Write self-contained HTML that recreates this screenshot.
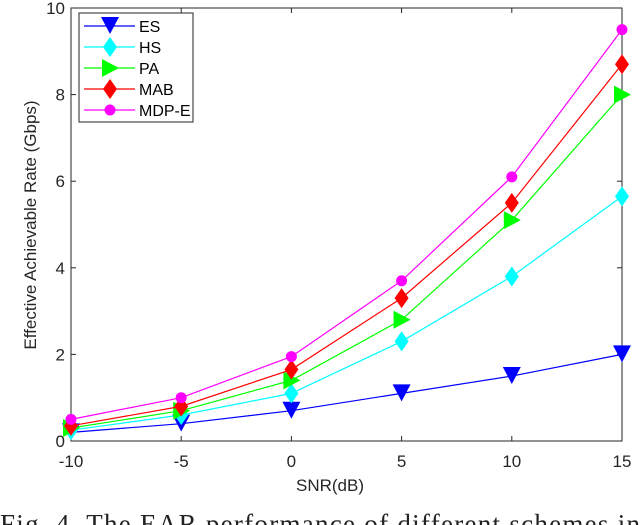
<!DOCTYPE html>
<html><head><meta charset="utf-8"><style>
html,body{margin:0;padding:0;background:#fff;overflow:hidden}
svg{display:block;font-family:"Liberation Sans",sans-serif}
</style></head><body>
<svg id="chart" width="640" height="525" viewBox="0 0 640 525">
<rect x="71" y="8" width="551" height="433" fill="#fff" stroke="#262626" stroke-width="1"/>
<g id="axes"></g>
<g id="series"></g>
<text x="330" y="491" font-size="17" text-anchor="middle" fill="#262626">SNR(dB)</text>
<text transform="translate(36,225) rotate(-90)" font-size="17" text-anchor="middle" fill="#262626">Effective Achievable Rate (Gbps)</text>
<g id="legend"></g>
<text x="0" y="533" font-family="Liberation Serif,serif" font-size="27" fill="#222" textLength="640">Fig. 4.  The EAR performance of different schemes in</text>
</svg>
<script>
const categories=[-10,-5,0,5,10,15];
const xTicks=[-10,-5,0,5,10,15];
const yTicks=[0,2,4,6,8,10];
const seriesNames=["ES","HS","PA","MAB","MDP-E"];
const esVals=[0.2,0.4,0.7,1.1,1.5,2.0];
const hsVals=[0.25,0.6,1.1,2.3,3.8,5.65];
const paVals=[0.3,0.7,1.4,2.8,5.1,8.0];
const mabVals=[0.35,0.8,1.65,3.3,5.5,8.7];
const mdpVals=[0.5,1.0,1.95,3.7,6.1,9.5];
const NS="http://www.w3.org/2000/svg";
const X0=71,X1=622,Y0=441,Y1=8;
const xs=v=>X0+(v+10)/25*(X1-X0);
const ys=v=>Y0-v/10*(Y0-Y1);
function mk(t,a,p){const e=document.createElementNS(NS,t);for(const k in a)e.setAttribute(k,a[k]);p.appendChild(e);return e;}
const axes=document.getElementById('axes');
xTicks.forEach(t=>{const x=xs(t);
 const l=mk('line',{x1:x,x2:x,y1:Y0,y2:Y0-5,stroke:'#262626'},axes);
 
 
 mk('line',{x1:x,x2:x,y1:Y1,y2:Y1+5,stroke:'#262626'},axes);
 const tx=mk('text',{x:x,y:Y0+26,'font-size':17,'text-anchor':'middle',fill:'#262626'},axes);tx.textContent=t;
 
 
});
yTicks.forEach(t=>{const y=ys(t);
 const l=mk('line',{x1:X0,x2:X0+5,y1:y,y2:y,stroke:'#262626'},axes);
 
 
 mk('line',{x1:X1,x2:X1-5,y1:y,y2:y,stroke:'#262626'},axes);
 const tx=mk('text',{x:X0-6,y:y+6,'font-size':17,'text-anchor':'end',fill:'#262626'},axes);tx.textContent=t;
 
 
});
const allVals=[esVals,hsVals,paVals,mabVals,mdpVals];
const colors=['#0000ff','#00ffff','#00ff00','#ff0000','#ff00ff'];
const shapes=['tri-down','diamond','tri-right','diamond','circle'];
function marker(shape,x,y,c,p){
 let e;
 if(shape==='tri-down')e=mk('polygon',{points:`${x-9},${y-9} ${x+9},${y-9} ${x},${y+8}`,fill:c},p);
 else if(shape==='diamond')e=mk('polygon',{points:`${x},${y-10} ${x+7},${y} ${x},${y+10} ${x-7},${y}`,fill:c},p);
 else if(shape==='tri-right')e=mk('polygon',{points:`${x-8},${y-9} ${x+9},${y} ${x-8},${y+9}`,fill:c},p);
 else e=mk('circle',{cx:x,cy:y,r:5.5,fill:c},p);
 return e;
}
const sg=document.getElementById('series');
allVals.forEach((vals,i)=>{
 const g=mk('g',{},sg);
 
 
 const pts=vals.map((v,j)=>xs(categories[j])+','+ys(v)).join(' ');
 mk('polyline',{points:pts,fill:'none',stroke:colors[i],'stroke-width':1.2},g);
 vals.forEach((v,j)=>{const m=marker(shapes[i],xs(categories[j]),ys(v),colors[i],g);
  
  });
});
const lg=document.getElementById('legend');
mk('rect',{x:79,y:13,width:114,height:109,fill:'#fff',stroke:'#262626'},lg);
seriesNames.forEach((n,i)=>{const y=26+i*21;
 const g=mk('g',{},lg);
 
 
 mk('line',{x1:84,x2:135,y1:y,y2:y,stroke:colors[i],'stroke-width':1.2},g);
 marker(shapes[i],110,y,colors[i],g);
 const t=mk('text',{x:139,y:y+6,'font-size':16,fill:'#000'},g);t.textContent=n;
});
</script>
</body></html>
